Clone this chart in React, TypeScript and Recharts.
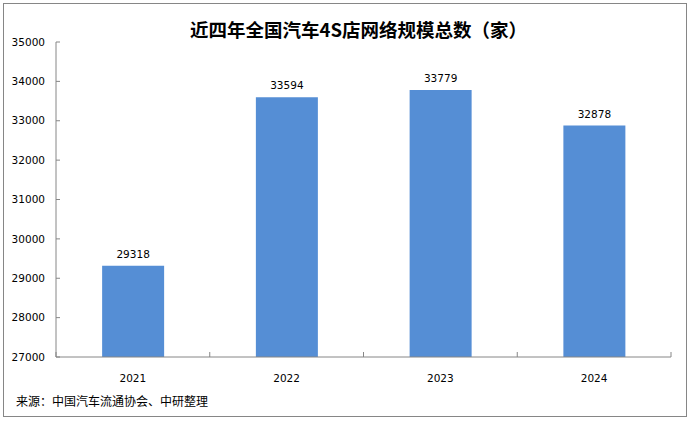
import React from 'react';
import { BarChart, Bar, XAxis, YAxis, LabelList } from 'recharts';

const years = ['2021', '2022', '2023', '2024'];
const storeCounts = [29318, 33594, 33779, 32878];
const yTicks = [27000, 28000, 29000, 30000, 31000, 32000, 33000, 34000, 35000];

const data = years.map((year, i) => ({ year, count: storeCounts[i] }));

const axisColor = '#868686';
const numFont = '"DejaVu Sans", Verdana, sans-serif';
const cjkFont = '"Noto Sans CJK SC", "Noto Sans", sans-serif';
const xLabelGap = 18;

// y labels plus a short tick pointing into the plot
const YTick = (props: any) => {
  const { x, y, payload } = props;
  return (
    <g>
      <text x={x} y={y} dy="0.355em" textAnchor="end" fill="#000" fontSize={10.5} fontFamily={numFont}>
        {payload.value}
      </text>
      <line x1={x + 11} y1={y} x2={x + 15} y2={y} stroke={axisColor} />
    </g>
  );
};

// category label plus tick marks on the band edges, pointing up
const XTick = (props: any) => {
  const { x, y, payload, index } = props;
  const half = payload.offset ?? 0;
  const axisY = y - xLabelGap;
  return (
    <g>
      <text x={x} y={y} dy="0.71em" textAnchor="middle" fill="#000" fontSize={10.5} fontFamily={numFont}>
        {payload.value}
      </text>
      <line x1={x - half} y1={axisY} x2={x - half} y2={axisY - 5} stroke={axisColor} />
      {index === years.length - 1 && (
        <line x1={x + half} y1={axisY} x2={x + half} y2={axisY - 5} stroke={axisColor} />
      )}
    </g>
  );
};

const App: React.FC = () => {
  return (
    <div style={{ position: 'absolute', left: 0, top: 0, width: 692, height: 421, background: '#fff' }}>
      <div
        style={{
          position: 'absolute',
          left: 3,
          top: 3,
          width: 682,
          height: 412,
          border: `1px solid ${axisColor}`,
        }}
      />
      <div
        style={{
          position: 'absolute',
          left: 56,
          width: 605,
          top: 16,
          textAlign: 'center',
          fontFamily: cjkFont,
          fontWeight: 'bold',
          fontSize: 18.5,
          lineHeight: '26px',
          color: '#000',
        }}
      >
        近四年全国汽车4S店网络规模总数（家）
      </div>
      <BarChart
        width={692}
        height={421}
        data={data}
        margin={{ top: 42, right: 21, bottom: 34, left: 0 }}
        barCategoryGap="30%"
      >
        <XAxis
          dataKey="year"
          height={30}
          stroke={axisColor}
          tickLine={false}
          tickSize={0}
          tickMargin={xLabelGap}
          tick={<XTick />}
        />
        <YAxis
          width={56}
          domain={[27000, 35000]}
          ticks={yTicks}
          stroke={axisColor}
          tickLine={false}
          tickSize={0}
          tickMargin={11}
          tick={<YTick />}
        />
        <Bar dataKey="count" fill="#558ED5" isAnimationActive={false}>
          <LabelList
            dataKey="count"
            position="top"
            offset={8}
            fill="#000"
            fontSize={10.5}
            fontFamily={numFont}
          />
        </Bar>
      </BarChart>
      <div
        style={{
          position: 'absolute',
          left: 16,
          top: 392,
          fontFamily: cjkFont,
          fontSize: 12,
          lineHeight: '18px',
          color: '#000',
        }}
      >
        来源：中国汽车流通协会、中研整理
      </div>
    </div>
  );
};

export default App;
